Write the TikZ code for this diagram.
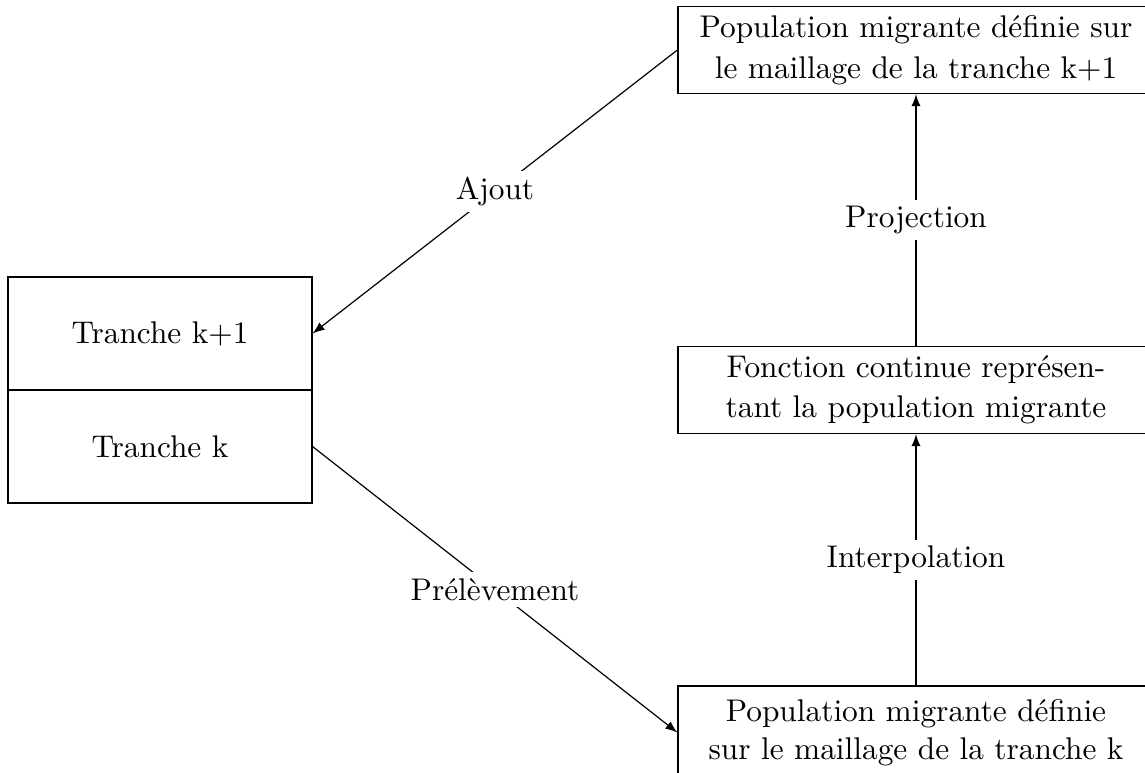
\documentclass[tikz,border=0pt]{standalone}
\usetikzlibrary{arrows.meta}
\begin{document}
\begin{tikzpicture}[x=0.33333pt,y=-0.33333pt,
  every node/.style={font=\fontsize{10.45pt}{12.8pt}\selectfont},
  box/.style={draw, minimum width=158.7pt, minimum height=29pt, align=center, inner sep=0pt},
  half/.style={draw, minimum width=101.3pt, minimum height=37.7pt, inner sep=0pt},
  arr/.style={-latex},
  lab/.style={fill=white, inner sep=2pt}]
\useasboundingbox (0,0) rectangle (1145,772);
\node[box] (top) at (916,50) {Population migrante définie sur\\[1pt]le maillage de la tranche k+1};
\node[box] (mid) at (916,390) {Fonction continue représen-\\[0.5pt]tant la population migrante};
\node[box, minimum height=31pt] (bot) at (916,732.5) {Population migrante définie\\sur le maillage de la tranche k};
\node[half] (up) at (160,333.5) {Tranche k+1};
\node[half] (low) at (160,446.5) {Tranche k};
\draw[arr] (top.west) -- node[lab]{Ajout} (up.east);
\draw[arr] (low.east) -- node[lab]{Prélèvement} (bot.west);
\draw[arr] (mid.north) -- node[lab]{Projection} (top.south);
\draw[arr] (bot.north) -- node[lab]{Interpolation} (mid.south);
\end{tikzpicture}
\end{document}
